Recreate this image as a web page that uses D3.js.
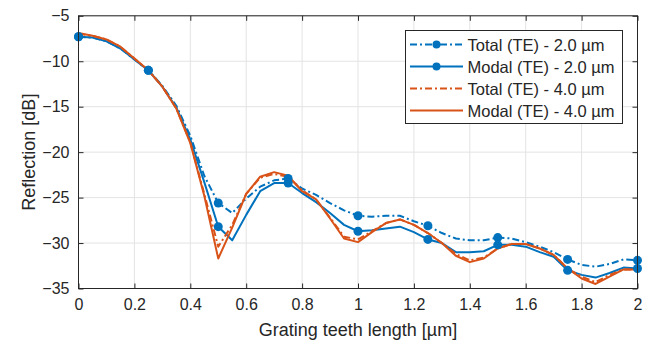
<!DOCTYPE html>
<html><head><meta charset="utf-8">
<script src="https://cdn.jsdelivr.net/npm/d3@7"></script>
<style>
body{margin:0;background:#fff;}
text{font-family:"Liberation Sans",Arial,Helvetica,sans-serif;fill:#262626;}
</style></head>
<body><svg id="c" width="653" height="348"></svg>
<script>
const xs = [0,0.05,0.1,0.15,0.2,0.25,0.3,0.35,0.4,0.45,0.5,0.55,0.6,0.65,0.7,0.75,0.8,0.85,0.9,0.95,1.0,1.05,1.1,1.15,1.2,1.25,1.3,1.35,1.4,1.45,1.5,1.55,1.6,1.65,1.7,1.75,1.8,1.85,1.9,1.95,2.0];
const totalTE2 = [-7.3,-7.4,-7.8,-8.6,-9.8,-11.0,-12.7,-14.9,-18.2,-22.6,-25.6,-26.7,-25.1,-23.8,-23.1,-22.9,-24.0,-24.7,-25.6,-26.4,-27.0,-27.1,-27.0,-27.0,-27.6,-28.1,-28.9,-29.5,-29.7,-29.7,-29.4,-29.5,-29.9,-30.4,-31.0,-31.8,-32.4,-32.6,-32.3,-31.8,-31.9];
const modalTE2 = [-7.3,-7.4,-7.8,-8.6,-9.8,-11.0,-12.8,-15.1,-18.6,-23.3,-28.2,-29.7,-26.9,-24.3,-23.4,-23.4,-24.5,-25.5,-26.7,-28.0,-28.7,-28.6,-28.4,-28.2,-28.8,-29.6,-30.0,-31.0,-31.0,-30.9,-30.2,-30.2,-30.4,-31.0,-31.5,-33.0,-33.5,-33.8,-33.3,-32.7,-32.8];
const totalTE4 = [-7.0,-7.2,-7.6,-8.4,-9.7,-11.0,-12.8,-15.2,-18.9,-24.6,-30.4,-28.0,-24.6,-22.8,-22.4,-22.7,-24.2,-25.2,-27.2,-29.3,-29.6,-28.7,-27.8,-27.4,-28.0,-28.9,-30.0,-31.2,-31.9,-31.6,-30.6,-30.1,-30.1,-30.6,-31.3,-32.8,-33.7,-34.3,-33.5,-32.9,-32.9];
const modalTE4 = [-6.9,-7.2,-7.6,-8.4,-9.7,-11.0,-12.8,-15.2,-19.0,-24.8,-31.7,-28.3,-24.6,-22.7,-22.2,-22.6,-24.3,-25.2,-27.3,-29.5,-29.9,-28.8,-27.8,-27.4,-28.0,-28.9,-30.0,-31.4,-32.1,-31.7,-30.6,-30.1,-30.1,-30.6,-31.3,-32.8,-33.9,-34.5,-33.7,-32.9,-32.9];
const xTicks = [0,0.2,0.4,0.6,0.8,1,1.2,1.4,1.6,1.8,2];
const yTicks = [-5,-10,-15,-20,-25,-30,-35];
const markerXs = [0,0.25,0.5,0.75,1.0,1.25,1.5,1.75,2.0];
const seriesNames = ["Total (TE) - 2.0 µm","Modal (TE) - 2.0 µm","Total (TE) - 4.0 µm","Modal (TE) - 4.0 µm"];

const blue = "#0072BD", orange = "#D95319";
const dashDot = "7,3,2,3";
const series = [
  {name:seriesNames[0], vals:totalTE2, color:blue, dash:dashDot, markers:true},
  {name:seriesNames[1], vals:modalTE2, color:blue, dash:null, markers:true},
  {name:seriesNames[2], vals:totalTE4, color:orange, dash:dashDot, markers:false},
  {name:seriesNames[3], vals:modalTE4, color:orange, dash:null, markers:false}
];

const svg = d3.select("#c");
const L=78.5, R=637.5, T=15.8, B=288.5;
const x = d3.scaleLinear().domain([0,2]).range([L,R]);
const y = d3.scaleLinear().domain([-35,-5]).range([B,T]);

// grid
const g = svg.append("g");
g.selectAll("line.gx").data(xTicks).join("line")
  .attr("x1",d=>x(d)).attr("x2",d=>x(d)).attr("y1",T).attr("y2",B)
  .attr("stroke","#e3e3e3").attr("stroke-width",1);
g.selectAll("line.gy").data(yTicks).join("line")
  .attr("y1",d=>y(d)).attr("y2",d=>y(d)).attr("x1",L).attr("x2",R)
  .attr("stroke","#e3e3e3").attr("stroke-width",1);

// lines
const line = d3.line().x((d,i)=>x(xs[i])).y(d=>y(d));
series.forEach(s=>{
  svg.append("path").datum(s.vals).attr("d",line)
    .attr("fill","none").attr("stroke",s.color).attr("stroke-width",2)
    .attr("stroke-linejoin","round")
    .attr("stroke-dasharray",s.dash);
});
series.filter(s=>s.markers).forEach(s=>{
  svg.append("g").selectAll("circle").data(markerXs).join("circle")
    .attr("cx",d=>x(d)).attr("cy",d=>y(s.vals[xs.indexOf(d)]))
    .attr("r",4.5).attr("fill",s.color);
});

// axes (box with inward ticks)
const axCol="#262626";
const ax = svg.append("g");
ax.append("rect").attr("x",L).attr("y",T).attr("width",R-L).attr("height",B-T)
  .attr("fill","none").attr("stroke",axCol).attr("stroke-width",1);
const xb = d3.axisBottom(x).tickValues(xTicks).tickSize(-5).tickPadding(10).tickFormat(d3.format("~g"));
const xt = d3.axisTop(x).tickValues(xTicks).tickSize(-5).tickFormat("");
const yl = d3.axisLeft(y).tickValues(yTicks).tickSize(-5).tickPadding(9).tickFormat(d3.format("~g"));
const yr = d3.axisRight(y).tickValues(yTicks).tickSize(-5).tickFormat("");
[[xb,`translate(0,${B})`],[xt,`translate(0,${T})`],[yl,`translate(${L},0)`],[yr,`translate(${R},0)`]].forEach(([a,tr])=>{
  const gg = ax.append("g").attr("transform",tr).call(a);
  gg.select(".domain").remove();
  gg.selectAll("line").attr("stroke",axCol);
  gg.selectAll("text").attr("font-size",16).attr("fill",axCol).attr("font-family","Liberation Sans, Arial, sans-serif");
});

// axis labels
svg.append("text").attr("x",(L+R)/2).attr("y",336).attr("text-anchor","middle")
  .attr("font-size",18).text("Grating teeth length [µm]");
svg.append("text").attr("transform",`translate(35,${(T+B)/2}) rotate(-90)`).attr("text-anchor","middle")
  .attr("font-size",18).text("Reflection [dB]");

// legend
const lg = svg.append("g");
lg.append("rect").attr("x",405.5).attr("y",30.5).attr("width",217).attr("height",93)
  .attr("fill","#fff").attr("stroke",axCol).attr("stroke-width",1);
series.forEach((s,i)=>{
  const yy = 44.5 + i*22;
  lg.append("line").attr("x1",410).attr("x2",463).attr("y1",yy).attr("y2",yy)
    .attr("stroke",s.color).attr("stroke-width",2).attr("stroke-dasharray",s.dash);
  if(s.markers) lg.append("circle").attr("cx",436.5).attr("cy",yy).attr("r",4).attr("fill",s.color);
  lg.append("text").attr("x",467.5).attr("y",yy+6).attr("font-size",16.5).text(s.name);
});
</script></body></html>
